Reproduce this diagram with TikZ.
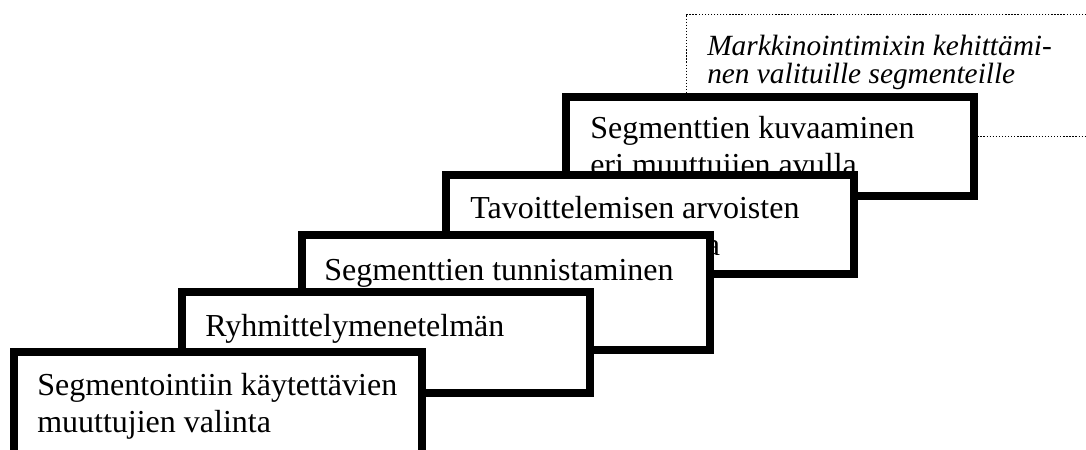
\documentclass[tikz,border=0pt]{standalone}
\usepackage{fontspec}
\setmainfont{Liberation Serif}
\newcommand{\twolines}[2]{\parbox[t]{400pt}{\raggedright #1\\#2}}
\begin{document}
\begin{tikzpicture}[x=.75pt,y=-.75pt,
		stair/.style={draw,line width=6pt,fill=white,rectangle,anchor=north west,outer sep=0pt,inner sep=0pt,minimum width=306pt},
		steptext/.style={anchor=base west,inner sep=0pt,font=\rmfamily\fontsize{24}{27.75}\selectfont},
		goaltext/.style={anchor=base west,inner sep=0pt,font=\rmfamily\fontsize{22}{21}\selectfont\itshape}]
		\clip (0,0) rectangle (1086,450);
		
		\node[draw,line width=.75pt,dash pattern=on 1pt off 1.3pt,anchor=north west,outer sep=0pt,inner sep=0pt,minimum width=306.75pt,minimum height=91.5pt] (goal) at (686,14) {};
		\node[goaltext] (goalt) at ([shift={(21,41)}]goal.north west) {\twolines{Markkinointimixin kehittämi-}{nen valituille segmenteille}};
		
		\node[stair,minimum height=74.25pt] (b5) at (566,97) {};
		\node[steptext] (t5) at ([shift={(24,41)}]b5.north west) {\twolines{Segmenttien kuvaaminen}{eri muuttujien avulla}};
		\node[stair,minimum height=74.25pt] (b4) at (446,175) {};
		\node[steptext] (t4) at ([shift={(24,43)}]b4.north west) {\twolines{Tavoittelemisen arvoisten}{segmenttien valinta}};
		\node[stair,minimum height=86.25pt] (b3) at (302,235) {};
		\node[steptext] (t3) at ([shift={(22,45)}]b3.north west) {Segmenttien tunnistaminen};
		\node[stair,minimum height=75.75pt] (b2) at (182,292) {};
		\node[steptext] (t2) at ([shift={(23,44)}]b2.north west) {Ryhmittelymenetelmän};
		\node[stair,minimum height=78pt] (b1) at (14,352) {};
		\node[steptext] (t1) at ([shift={(23,43)}]b1.north west) {\twolines{Segmentointiin käytettävien}{muuttujien valinta}};
		\end{tikzpicture}
\end{document}
